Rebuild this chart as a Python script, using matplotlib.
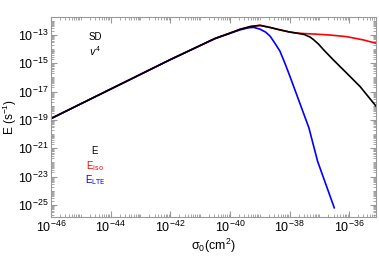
import numpy as np
import matplotlib
matplotlib.use("Agg")
import matplotlib.pyplot as plt
from matplotlib.ticker import FixedLocator, LogLocator, NullFormatter

plt.rcParams['font.family'] = ['Liberation Sans', 'DejaVu Sans']
plt.rcParams['mathtext.default'] = 'regular'

# curve readings, log10 of sigma_0 and log10 of E
logx_E = [-46, -44, -42, -40.5, -39.99, -39.66, -39.3, -38.99, -38.65, -38.32, -38.0, -37.76,
          -37.5, -37.31, -37.2, -37.02, -36.86, -36.53, -36.08, -35.63, -35.07]
logy_E = [-18.9, -16.82, -14.74, -13.25, -12.86, -12.6, -12.4, -12.32, -12.47, -12.64, -12.79, -12.87,
          -12.97, -13.15, -13.32, -13.66, -14.04, -14.76, -15.70, -16.65, -18.10]

logx_iso = [-46, -44, -42, -40.5, -39.99, -39.66, -39.3, -38.99, -38.65, -38.32, -38.0, -37.76,
            -37.5, -37.2, -36.6, -36.08, -35.52, -35.0]
logy_iso = [-18.9, -16.82, -14.74, -13.25, -12.86, -12.6, -12.4, -12.32, -12.47, -12.64, -12.79, -12.86,
            -12.9, -12.93, -13.01, -13.12, -13.35, -13.64]

logx_lte = [-46, -44, -42, -40.5, -39.99, -39.66, -39.4, -39.21, -39.0, -38.8, -38.65, -38.5, -38.32,
            -38.15, -37.98, -37.64, -37.35, -37.06, -36.5]
logy_lte = [-18.9, -16.82, -14.74, -13.25, -12.88, -12.64, -12.5, -12.46, -12.58, -12.8, -13.09, -13.55,
            -14.15, -15.02, -15.96, -17.9, -19.56, -21.91, -25.2]

x_ticks = [1e-46, 1e-44, 1e-42, 1e-40, 1e-38, 1e-36]
x_labels = ['$10^{-46}$', '$10^{-44}$', '$10^{-42}$', '$10^{-40}$', '$10^{-38}$', '$10^{-36}$']
y_ticks = [1e-25, 1e-23, 1e-21, 1e-19, 1e-17, 1e-15, 1e-13]
y_labels = ['$10^{-25}$', '$10^{-23}$', '$10^{-21}$', '$10^{-19}$', '$10^{-17}$', '$10^{-15}$', '$10^{-13}$']

fig = plt.figure(figsize=(3.79, 2.56), dpi=100)
ax = fig.add_axes([0.1346, 0.1523, 0.8575, 0.7813])

ax.plot(10.0 ** np.array(logx_iso), 10.0 ** np.array(logy_iso), color='#ff0000', lw=1.2)
ax.plot(10.0 ** np.array(logx_lte), 10.0 ** np.array(logy_lte), color='#0000ff', lw=1.2)
ax.plot(10.0 ** np.array(logx_E), 10.0 ** np.array(logy_E), color='black', lw=1.2)

ax.set_xscale('log')
ax.set_yscale('log')
ax.set_xlim(1e-46, 10 ** -35.1)
ax.set_ylim(10 ** -25.85, 10 ** -11.73)

ax.xaxis.set_major_locator(FixedLocator(x_ticks))
ax.set_xticklabels(x_labels)
ax.yaxis.set_major_locator(FixedLocator(y_ticks))
ax.set_yticklabels(y_labels)
for axis in (ax.xaxis, ax.yaxis):
    axis.set_minor_locator(LogLocator(base=10, subs=np.arange(1, 10), numticks=100))
    axis.set_minor_formatter(NullFormatter())

ax.tick_params(which='both', direction='in', top=True, right=True, color='#999999', labelsize=9, pad=2)
ax.tick_params(which='major', length=4, width=0.8)
ax.tick_params(which='minor', length=2.2, width=0.6)
for s in ax.spines.values():
    s.set_color('#999999')
    s.set_linewidth(0.8)

ax.set_xlabel(r'$\sigma_0$(cm$^2$)', fontsize=9, labelpad=1)
ax.set_ylabel('E (s$^{-1}$)', fontsize=8.5)
ax.yaxis.set_label_coords(-0.1, 0.5)

ax.text(0.135, 0.9, 'SD', transform=ax.transAxes, ha='center', va='center', fontsize=7)
ax.text(0.135, 0.83, r'$\mathit{v}^4$', transform=ax.transAxes, ha='center', va='center', fontsize=7)
ax.text(0.135, 0.33, 'E', transform=ax.transAxes, ha='center', va='center', fontsize=7, color='black')
ax.text(0.135, 0.255, 'E$_{\\rm iso}$', transform=ax.transAxes, ha='center', va='center', fontsize=7, color='#ff0000')
ax.text(0.135, 0.185, 'E$_{\\rm LTE}$', transform=ax.transAxes, ha='center', va='center', fontsize=7, color='#0000ff')

fig.savefig('out.png', dpi=100)
